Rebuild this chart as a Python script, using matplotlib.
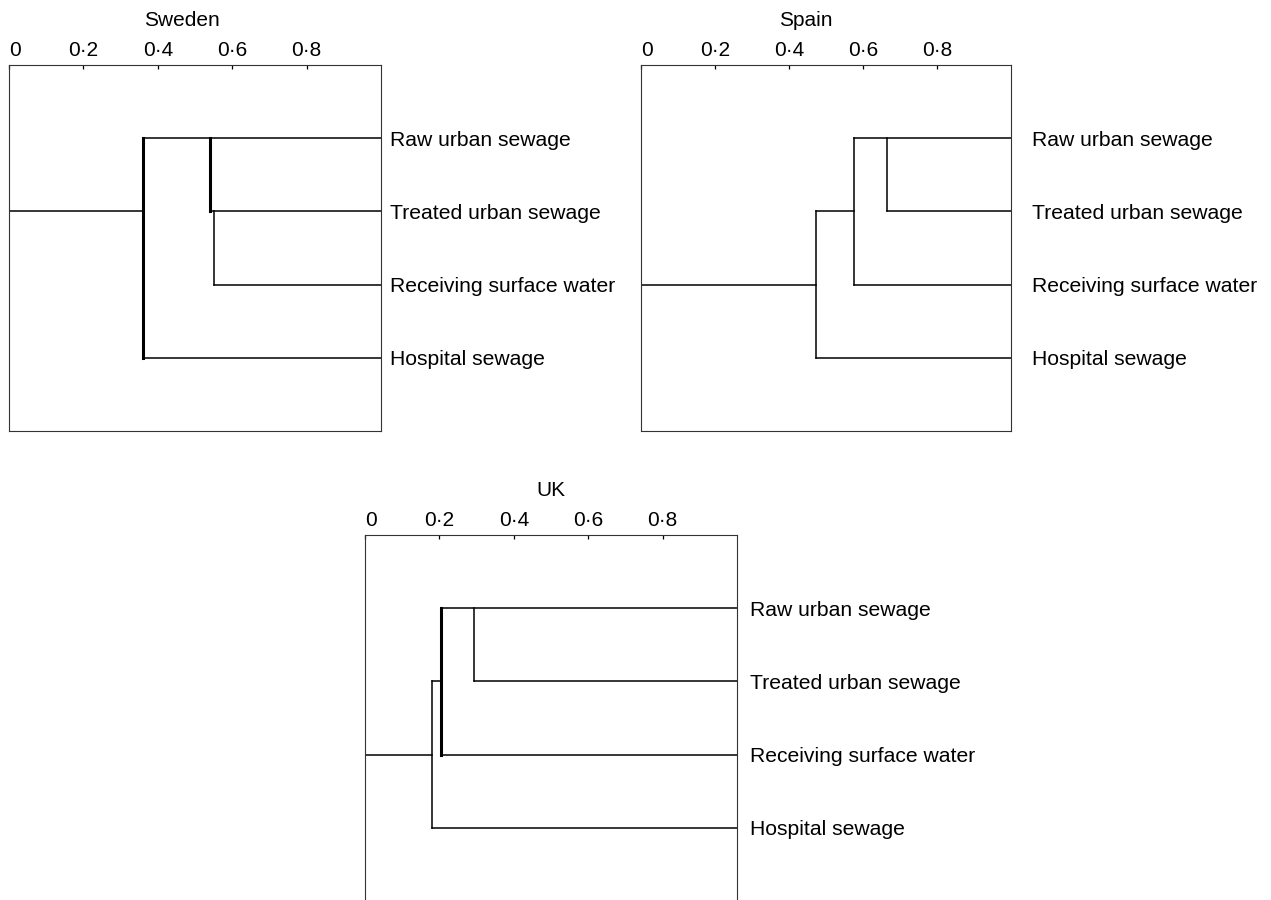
import matplotlib.pyplot as plt

plt.rcParams['font.family'] = ['Liberation Sans', 'DejaVu Sans']

SAMPLES = ['Raw urban sewage', 'Treated urban sewage',
           'Receiving surface water', 'Hospital sewage']
TICKS = [0, 0.2, 0.4, 0.6, 0.8]
TICK_LABELS = ['0', '0·2', '0·4', '0·6', '0·8']

# distance at which each sample's branch joins the tree
sweden_leaf = [0.36, 0.54, 0.55, 0.36]
spain_leaf = [0.575, 0.665, 0.575, 0.474]
uk_leaf = [0.205, 0.294, 0.205, 0.179]

# cluster nodes: (distance, first sample row, last sample row)
sweden_nodes = [(0.36, 1, 4), (0.54, 1, 2), (0.55, 2, 3)]
spain_nodes = [(0.474, 2, 4), (0.575, 1, 3), (0.665, 1, 2)]
uk_nodes = [(0.179, 2, 4), (0.205, 1, 3), (0.294, 1, 2)]

# nodes drawn with a heavy line
sweden_heavy = [True, True, False]
spain_heavy = [False, False, False]
uk_heavy = [False, True, False]

# node to node links: (row, from distance, to distance)
sweden_links = []
spain_links = [(2, 0.474, 0.575)]
uk_links = [(2, 0.179, 0.205)]

# root branch: (row, distance)
sweden_root = (2, 0.36)
spain_root = (3, 0.474)
uk_root = (3, 0.179)


def draw_tree(ax, title, leaf, nodes, heavy, links, root, title_x, label_pad):
    rows = list(range(1, len(SAMPLES) + 1))
    kw = dict(colors='black', capstyle='projecting')
    ax.hlines(rows, leaf, 1, lw=1.1, **kw)
    for (d, r0, r1), h in zip(nodes, heavy):
        ax.vlines(d, r0, r1, lw=2.2 if h else 1.1, **kw)
    for r, d0, d1 in links:
        ax.hlines(r, d0, d1, lw=1.1, **kw)
    ax.hlines(root[0], 0, root[1], lw=1.1, **kw)

    ax.set_xlim(0, 1)
    ax.set_ylim(5, 0)
    ax.xaxis.tick_top()
    ax.set_xticks(TICKS, TICK_LABELS)
    ax.tick_params(axis='x', direction='in', length=3, width=0.9,
                   pad=3.5, labelsize=15)
    ax.get_xticklabels()[0].set_ha('left')
    ax.set_yticks([])
    for sp in ax.spines.values():
        sp.set_linewidth(0.8)
        sp.set_color('#333333')

    for r, name in zip(rows, SAMPLES):
        ax.annotate(name, xy=(1, r), xycoords=ax.get_yaxis_transform(),
                    xytext=(label_pad, -2), textcoords='offset pixels',
                    va='center', ha='left', fontsize=15.2)
    ax.text(title_x, 1.107, title, transform=ax.transAxes,
            ha='center', va='baseline', fontsize=15)


fig = plt.figure(figsize=(12.71, 9), dpi=100)
ax1 = fig.add_axes([0.0071, 0.5211, 0.2927, 0.4067])
ax2 = fig.add_axes([0.5043, 0.5211, 0.2911, 0.4067])
ax3 = fig.add_axes([0.2872, -0.0011, 0.2927, 0.4067])

draw_tree(ax1, 'Sweden', sweden_leaf, sweden_nodes, sweden_heavy,
          sweden_links, sweden_root, 0.466, 9)
draw_tree(ax2, 'Spain', spain_leaf, spain_nodes, spain_heavy,
          spain_links, spain_root, 0.446, 21)
draw_tree(ax3, 'UK', uk_leaf, uk_nodes, uk_heavy,
          uk_links, uk_root, 0.5, 13)

fig.savefig('out.png', dpi=100)
